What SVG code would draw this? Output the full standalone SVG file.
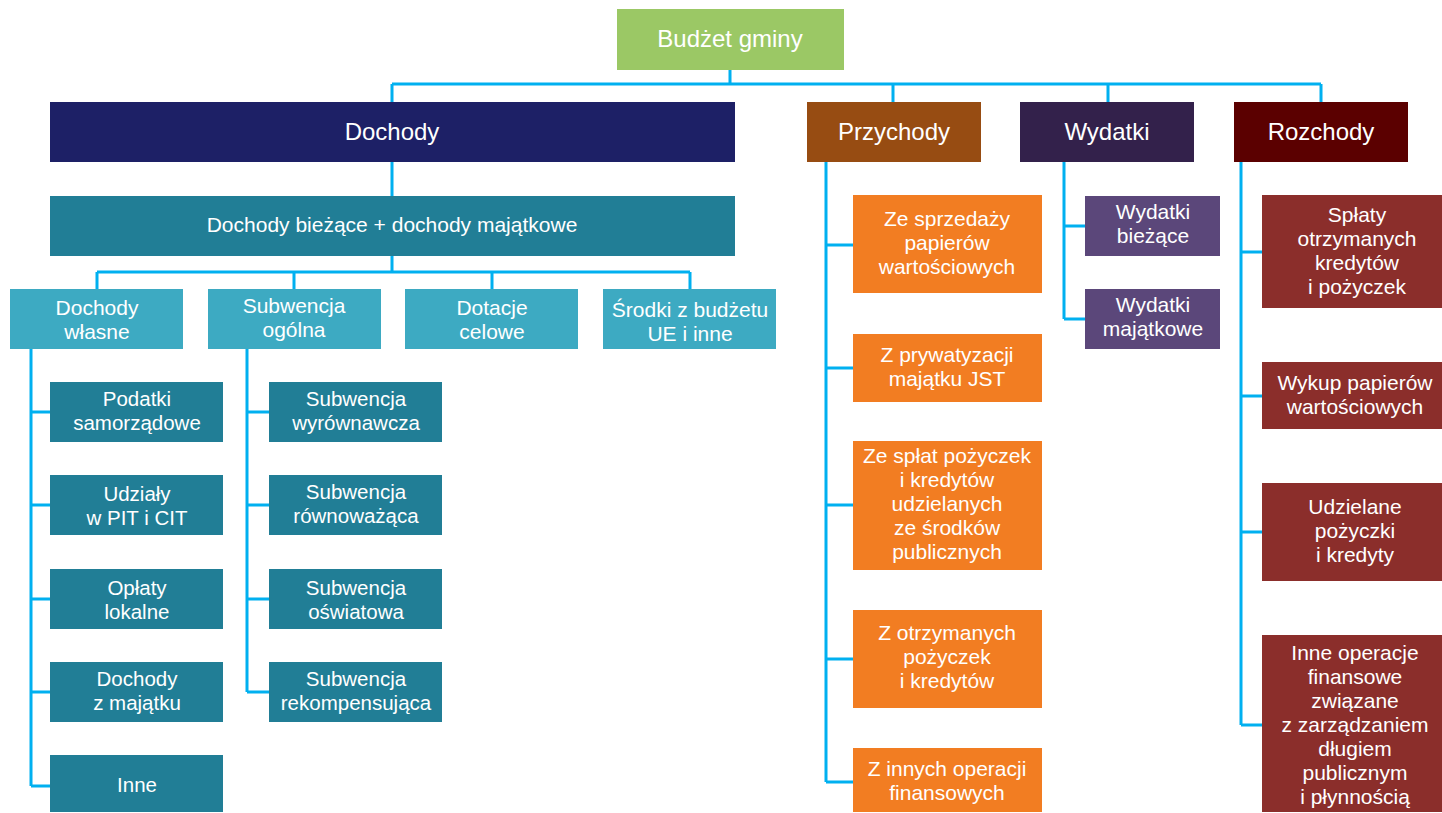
<svg xmlns="http://www.w3.org/2000/svg" width="1442" height="813" viewBox="0 0 1442 813">
<style>
.t{fill:#fff;font-family:"Liberation Sans Narrow","Arial Narrow","Liberation Sans",sans-serif;text-anchor:middle;font-size:21px}
.a{fill:#fff;font-family:"Liberation Sans",Arial,sans-serif;text-anchor:middle;font-size:20.5px}
.big{font-size:24px}
.c{fill:none;stroke:#00B0F0;stroke-width:3}
.teal{fill:#217E96}.lt{fill:#3DAAC2}.or{fill:#F27D22}.pu{fill:#5B477A}.rd{fill:#8B2E2B}
</style>
<g id="connectors" class="c">
<path d="M730 70V84M392 84H1321M392 84V102M893 84V102M1108 84V102M1321 84V102"/>
<path d="M392 162V196M392 256V272M97 272H690M97 272V289M294 272V289M492 272V289M690 272V289"/>
<path d="M31 349V786M31 412H50M31 505H50M31 599H50M31 692H50M31 786H50"/>
<path d="M247 349V692M247 412H269M247 505H269M247 599H269M247 692H269"/>
<path d="M826 162V782M826 245H853M826 368H853M826 505H853M826 659H853M826 782H853"/>
<path d="M1064 162V319M1064 226H1085M1064 319H1085"/>
<path d="M1241 162V725M1241 252H1262M1241 396H1262M1241 532H1262M1241 725H1262"/>
</g>
<g id="budzet"><rect x="617" y="9" width="227" height="61" fill="#9BC865"/><text class="t big" x="730" y="47">Budżet gminy</text></g>
<g id="dochody"><rect x="50" y="102" width="685" height="60" fill="#1D2066"/><text class="t big" x="392" y="140">Dochody</text></g>
<g id="przychody"><rect x="807" y="102" width="174" height="60" fill="#974C12"/><text class="t big" x="894" y="140">Przychody</text></g>
<g id="wydatki"><rect x="1020" y="102" width="174" height="60" fill="#33214B"/><text class="t big" x="1107" y="140">Wydatki</text></g>
<g id="rozchody"><rect x="1234" y="102" width="174" height="60" fill="#5B0000"/><text class="t big" x="1321" y="140">Rozchody</text></g>
<g id="biezace"><rect class="teal" x="50" y="196" width="685" height="60"/><text class="t" x="392" y="232">Dochody bieżące + dochody majątkowe</text></g>
<g id="wlasne"><rect class="lt" x="10" y="289" width="173" height="60"/><text class="t" x="97" y="315">Dochody</text><text class="t" x="97" y="339">własne</text></g>
<g id="ogolna"><rect class="lt" x="208" y="289" width="173" height="60"/><text class="t" x="294" y="313">Subwencja</text><text class="t" x="294" y="337">ogólna</text></g>
<g id="dotacje"><rect class="lt" x="405" y="289" width="173" height="60"/><text class="t" x="492" y="315">Dotacje</text><text class="t" x="492" y="339">celowe</text></g>
<g id="srodki"><rect class="lt" x="603" y="289" width="173" height="60"/><text class="t" x="690" y="317">Środki z budżetu</text><text class="t" x="690" y="341">UE i inne</text></g>
<g id="podatki"><rect class="teal" x="50" y="382" width="173" height="60"/><text class="a" x="137" y="406">Podatki</text><text class="a" x="137" y="430">samorządowe</text></g>
<g id="udzialy"><rect class="teal" x="50" y="475" width="173" height="60"/><text class="a" x="137" y="501">Udziały</text><text class="a" x="137" y="525">w PIT i CIT</text></g>
<g id="oplaty"><rect class="teal" x="50" y="569" width="173" height="60"/><text class="a" x="137" y="595">Opłaty</text><text class="a" x="137" y="619">lokalne</text></g>
<g id="zmajatku"><rect class="teal" x="50" y="662" width="173" height="60"/><text class="a" x="137" y="686">Dochody</text><text class="a" x="137" y="710">z majątku</text></g>
<g id="inne"><rect class="teal" x="50" y="755" width="173" height="57"/><text class="a" x="137" y="792">Inne</text></g>
<g id="wyrown"><rect class="teal" x="269" y="382" width="173" height="60"/><text class="a" x="356" y="406">Subwencja</text><text class="a" x="356" y="430">wyrównawcza</text></g>
<g id="rownow"><rect class="teal" x="269" y="475" width="173" height="60"/><text class="a" x="356" y="499">Subwencja</text><text class="a" x="356" y="523">równoważąca</text></g>
<g id="oswiat"><rect class="teal" x="269" y="569" width="173" height="60"/><text class="a" x="356" y="595">Subwencja</text><text class="a" x="356" y="619">oświatowa</text></g>
<g id="rekomp"><rect class="teal" x="269" y="662" width="173" height="60"/><text class="a" x="356" y="686">Subwencja</text><text class="a" x="356" y="710">rekompensująca</text></g>
<g id="p1"><rect class="or" x="853" y="195" width="189" height="98"/><text class="t" x="947" y="226">Ze sprzedaży</text><text class="t" x="947" y="250">papierów</text><text class="t" x="947" y="274">wartościowych</text></g>
<g id="p2"><rect class="or" x="853" y="334" width="189" height="68"/><text class="t" x="947" y="362">Z prywatyzacji</text><text class="t" x="947" y="386">majątku JST</text></g>
<g id="p3"><rect class="or" x="853" y="441" width="189" height="129"/><text class="t" x="947" y="463">Ze spłat pożyczek</text><text class="t" x="947" y="487">i kredytów</text><text class="t" x="947" y="511">udzielanych</text><text class="t" x="947" y="535">ze środków</text><text class="t" x="947" y="559">publicznych</text></g>
<g id="p4"><rect class="or" x="853" y="610" width="189" height="98"/><text class="t" x="947" y="640">Z otrzymanych</text><text class="t" x="947" y="664">pożyczek</text><text class="t" x="947" y="688">i kredytów</text></g>
<g id="p5"><rect class="or" x="853" y="748" width="189" height="64"/><text class="t" x="947" y="776">Z innych operacji</text><text class="t" x="947" y="800">finansowych</text></g>
<g id="w1"><rect class="pu" x="1085" y="196" width="135" height="60"/><text class="t" x="1153" y="219">Wydatki</text><text class="t" x="1153" y="243">bieżące</text></g>
<g id="w2"><rect class="pu" x="1085" y="289" width="135" height="60"/><text class="t" x="1153" y="312">Wydatki</text><text class="t" x="1153" y="336">majątkowe</text></g>
<g id="r1"><rect class="rd" x="1262" y="195" width="180" height="113"/><text class="t" x="1357" y="222">Spłaty</text><text class="t" x="1357" y="246">otrzymanych</text><text class="t" x="1357" y="270">kredytów</text><text class="t" x="1357" y="294">i pożyczek</text></g>
<g id="r2"><rect class="rd" x="1262" y="362" width="180" height="67"/><text class="t" x="1355" y="390">Wykup papierów</text><text class="t" x="1355" y="414">wartościowych</text></g>
<g id="r3"><rect class="rd" x="1262" y="483" width="180" height="98"/><text class="t" x="1355" y="514">Udzielane</text><text class="t" x="1355" y="538">pożyczki</text><text class="t" x="1355" y="562">i kredyty</text></g>
<g id="r4"><rect class="rd" x="1262" y="635" width="180" height="177"/><text class="t" x="1355" y="660">Inne operacje</text><text class="t" x="1355" y="684">finansowe</text><text class="t" x="1355" y="708">związane</text><text class="t" x="1355" y="732">z zarządzaniem</text><text class="t" x="1355" y="756">długiem</text><text class="t" x="1355" y="780">publicznym</text><text class="t" x="1355" y="804">i płynnością</text></g>
</svg>
